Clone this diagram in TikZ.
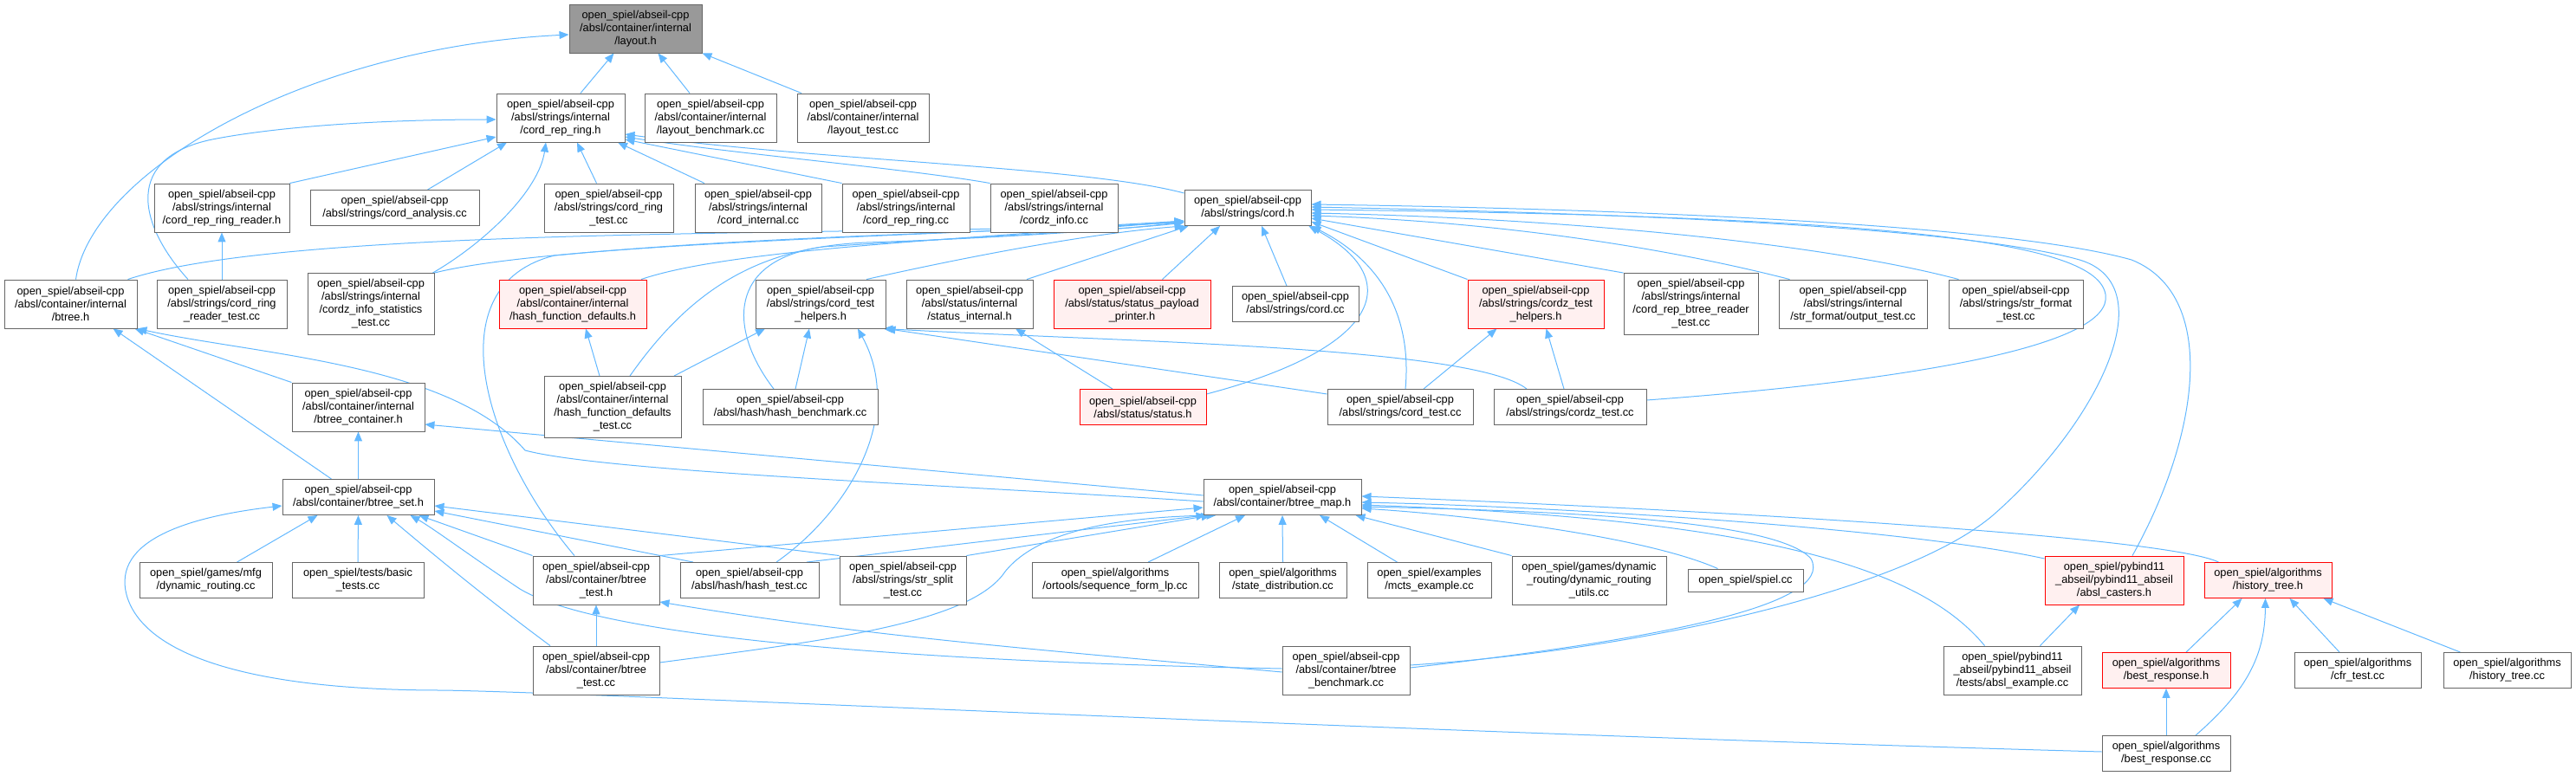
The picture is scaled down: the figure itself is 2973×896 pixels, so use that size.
\documentclass[tikz,border=0pt]{standalone}
\usepackage{fontspec}
\setmainfont{Liberation Sans}
\usetikzlibrary{arrows.meta,backgrounds}
\definecolor{edgec}{HTML}{63B8FF}
\definecolor{nodegray}{HTML}{666666}
\definecolor{rootgray}{HTML}{999999}
\definecolor{redfill}{HTML}{FFF0F0}
\tikzset{
 box/.style={draw=nodegray, line width=0.9pt, fill=white, inner sep=0pt, align=center, font=\fontsize{12.8pt}{15pt}\selectfont, minimum height=56pt},
 redbox/.style={box, draw=red, fill=redfill},
 rootbox/.style={box, fill=rootgray},
 twoline/.style={minimum height=41pt},
 fourline/.style={minimum height=71pt},
 oneline/.style={minimum height=26pt},
 edge/.style={draw=edgec, line width=1pt, -{Triangle[length=11pt,width=9pt]}}
}
\begin{document}
\begin{tikzpicture}[x=1pt,y=-1pt]
\useasboundingbox (0,0) rectangle (2973,896);
% row 0
\node[rootbox, minimum width=153pt] (layout) at (733.5,33) {open\_spiel/abseil-cpp\\/absl/container/internal\\/layout.h};
% row 1
\node[box, minimum width=148pt] (crrh) at (647,136) {open\_spiel/abseil-cpp\\/absl/strings/internal\\/cord\_rep\_ring.h};
\node[box, minimum width=152pt] (laybm) at (820,136) {open\_spiel/abseil-cpp\\/absl/container/internal\\/layout\_benchmark.cc};
\node[box, minimum width=152pt] (laytest) at (996,136) {open\_spiel/abseil-cpp\\/absl/container/internal\\/layout\_test.cc};
% row 2
\node[box, minimum width=156pt] (crrrdh) at (256,240) {open\_spiel/abseil-cpp\\/absl/strings/internal\\/cord\_rep\_ring\_reader.h};
\node[box, twoline, minimum width=195pt] (cordan) at (455.5,240) {open\_spiel/abseil-cpp\\/absl/strings/cord\_analysis.cc};
\node[box, minimum width=149pt] (crtest) at (702.5,240) {open\_spiel/abseil-cpp\\/absl/strings/cord\_ring\\\_test.cc};
\node[box, minimum width=146pt] (cordint) at (875,240) {open\_spiel/abseil-cpp\\/absl/strings/internal\\/cord\_internal.cc};
\node[box, minimum width=147pt] (crrcc) at (1045.5,240) {open\_spiel/abseil-cpp\\/absl/strings/internal\\/cord\_rep\_ring.cc};
\node[box, minimum width=147pt] (czinfo) at (1216.5,240) {open\_spiel/abseil-cpp\\/absl/strings/internal\\/cordz\_info.cc};
\node[box, twoline, minimum width=146pt] (cordh) at (1440,240) {open\_spiel/abseil-cpp\\/absl/strings/cord.h};
% row 3
\node[box, minimum width=153pt] (btreeh) at (81.5,351) {open\_spiel/abseil-cpp\\/absl/container/internal\\/btree.h};
\node[box, minimum width=150pt] (crrdtest) at (256,351) {open\_spiel/abseil-cpp\\/absl/strings/cord\_ring\\\_reader\_test.cc};
\node[box, fourline, minimum width=146pt] (czstat) at (428,351) {open\_spiel/abseil-cpp\\/absl/strings/internal\\/cordz\_info\_statistics\\\_test.cc};
\node[redbox, minimum width=170pt] (hfdh) at (661,351) {open\_spiel/abseil-cpp\\/absl/container/internal\\/hash\_function\_defaults.h};
\node[box, minimum width=150pt] (cthh) at (947,351) {open\_spiel/abseil-cpp\\/absl/strings/cord\_test\\\_helpers.h};
\node[box, minimum width=146pt] (statint) at (1119,351) {open\_spiel/abseil-cpp\\/absl/status/internal\\/status\_internal.h};
\node[redbox, minimum width=181pt] (spph) at (1306.5,351) {open\_spiel/abseil-cpp\\/absl/status/status\_payload\\\_printer.h};
\node[box, twoline, minimum width=146pt] (cordcc) at (1495,351) {open\_spiel/abseil-cpp\\/absl/strings/cord.cc};
\node[redbox, minimum width=157pt] (czthh) at (1772.5,351) {open\_spiel/abseil-cpp\\/absl/strings/cordz\_test\\\_helpers.h};
\node[box, fourline, minimum width=155pt] (crbrt) at (1951.5,351) {open\_spiel/abseil-cpp\\/absl/strings/internal\\/cord\_rep\_btree\_reader\\\_test.cc};
\node[box, minimum width=171pt] (sfot) at (2138.5,351) {open\_spiel/abseil-cpp\\/absl/strings/internal\\/str\_format/output\_test.cc};
\node[box, minimum width=155pt] (sft) at (2326.5,351) {open\_spiel/abseil-cpp\\/absl/strings/str\_format\\\_test.cc};
% row 4
\node[box, minimum width=153pt] (btcont) at (413.5,470) {open\_spiel/abseil-cpp\\/absl/container/internal\\/btree\_container.h};
\node[box, fourline, minimum width=158pt] (hfdtest) at (707,470) {open\_spiel/abseil-cpp\\/absl/container/internal\\/hash\_function\_defaults\\\_test.cc};
\node[box, twoline, minimum width=202pt] (hashbm) at (912,470) {open\_spiel/abseil-cpp\\/absl/hash/hash\_benchmark.cc};
\node[redbox, twoline, minimum width=146pt] (statush) at (1319,470) {open\_spiel/abseil-cpp\\/absl/status/status.h};
\node[box, twoline, minimum width=168pt] (cordtest) at (1616,470) {open\_spiel/abseil-cpp\\/absl/strings/cord\_test.cc};
\node[box, twoline, minimum width=176pt] (cordztest) at (1812,470) {open\_spiel/abseil-cpp\\/absl/strings/cordz\_test.cc};
% row 5
\node[box, twoline, minimum width=175pt] (btset) at (413.5,574) {open\_spiel/abseil-cpp\\/absl/container/btree\_set.h};
\node[box, twoline, minimum width=182pt] (btmap) at (1480,574) {open\_spiel/abseil-cpp\\/absl/container/btree\_map.h};
% row 6
\node[box, twoline, minimum width=153pt] (mfgdr) at (237.5,670) {open\_spiel/games/mfg\\/dynamic\_routing.cc};
\node[box, twoline, minimum width=152pt] (basictests) at (413,670) {open\_spiel/tests/basic\\\_tests.cc};
\node[box, minimum width=146pt] (bttesth) at (688,670) {open\_spiel/abseil-cpp\\/absl/container/btree\\\_test.h};
\node[box, twoline, minimum width=160pt] (hashtest) at (865,670) {open\_spiel/abseil-cpp\\/absl/hash/hash\_test.cc};
\node[box, minimum width=146pt] (strsplit) at (1042,670) {open\_spiel/abseil-cpp\\/absl/strings/str\_split\\\_test.cc};
\node[box, twoline, minimum width=192pt] (sflp) at (1287,670) {open\_spiel/algorithms\\/ortools/sequence\_form\_lp.cc};
\node[box, twoline, minimum width=147pt] (statedist) at (1480.5,670) {open\_spiel/algorithms\\/state\_distribution.cc};
\node[box, twoline, minimum width=143pt] (mcts) at (1649.5,670) {open\_spiel/examples\\/mcts\_example.cc};
\node[box, minimum width=178pt] (drutils) at (1834,670) {open\_spiel/games/dynamic\\\_routing/dynamic\_routing\\\_utils.cc};
\node[box, oneline, minimum width=133pt] (spielcc) at (2014.5,670) {open\_spiel/spiel.cc};
\node[redbox, minimum width=160pt] (caster) at (2440,670) {open\_spiel/pybind11\\\_abseil/pybind11\_abseil\\/absl\_casters.h};
\node[redbox, twoline, minimum width=147pt] (histh) at (2617.5,670) {open\_spiel/algorithms\\/history\_tree.h};
% row 7
\node[box, minimum width=146pt] (bttestcc) at (688,774) {open\_spiel/abseil-cpp\\/absl/container/btree\\\_test.cc};
\node[box, minimum width=147pt] (btbm) at (1553.5,774) {open\_spiel/abseil-cpp\\/absl/container/btree\\\_benchmark.cc};
\node[box, minimum width=159pt] (abslex) at (2322.5,774) {open\_spiel/pybind11\\\_abseil/pybind11\_abseil\\/tests/absl\_example.cc};
\node[redbox, twoline, minimum width=148pt] (brh) at (2500,774) {open\_spiel/algorithms\\/best\_response.h};
\node[box, twoline, minimum width=146pt] (cfr) at (2721,774) {open\_spiel/algorithms\\/cfr\_test.cc};
\node[box, twoline, minimum width=147pt] (histcc) at (2893.5,774) {open\_spiel/algorithms\\/history\_tree.cc};
% row 8
\node[box, twoline, minimum width=148pt] (brcc) at (2500,870) {open\_spiel/algorithms\\/best\_response.cc};

\begin{pgfonlayer}{background}
% into layout.h
\draw[edge] ([xshift=23]crrh.north) -- ([xshift=-25]layout.south);
\draw[edge] ([xshift=-24]laybm.north) -- ([xshift=26]layout.south);
\draw[edge] ([xshift=-71]laytest.north) -- (layout.south east);
\draw[edge] ([xshift=6]btreeh.north) .. controls (105,200) and (350,55) .. ([yshift=-7]layout.west);
% into cord_rep_ring.h
\draw[edge] (crrrdh.north east) -- ([yshift=-22]crrh.west);
\draw[edge] ([xshift=38]cordan.north) -- ([xshift=-62]crrh.south);
\draw[edge] ([xshift=-14]crtest.north) -- ([xshift=19]crrh.south);
\draw[edge] ([xshift=-62]cordint.north) -- ([xshift=66]crrh.south);
\draw[edge] (crrcc.north west) -- ([yshift=-25]crrh.east);
\draw[edge] (czinfo.north west) .. controls (1050,195) and (850,178) .. ([yshift=-22]crrh.east);
\draw[edge] ([yshift=17]cordh.west) .. controls (1250,192) and (950,186) .. ([yshift=-19]crrh.east);
\draw[edge] ([xshift=-39]crrdtest.north) .. controls (160,260) and (140,180) .. (250,160) .. controls (330,145) and (450,138) .. ([yshift=-2]crrh.west);
\draw[edge] ([xshift=-2]czstat.north east) .. controls (560,280) and (622,220) .. ([xshift=-17]crrh.south);
\draw[edge] (crrdtest.north) -- (crrrdh.south);
% into cord.h from the left
\draw[edge] ([xshift=66]btreeh.north) .. controls (350,255) and (1100,275) .. ([yshift=-16]cordh.west);
\draw[edge] (czstat.north east) .. controls (640,280) and (1100,272) .. ([yshift=-15]cordh.west);
\draw[edge] ([xshift=79]hfdh.north) .. controls (850,285) and (1150,275) .. ([yshift=-15]cordh.west);
\draw[edge] ([xshift=20]hfdtest.north) .. controls (800,330) and (880,285) .. (1000,280) .. controls (1150,275) and (1300,265) .. ([yshift=-16]cordh.west);
\draw[edge] ([xshift=-19]hashbm.north) .. controls (840,380) and (840,300) .. (950,285) .. controls (1100,275) and (1300,265) .. ([yshift=-17]cordh.west);
\draw[edge] ([xshift=-25]bttesth.north) .. controls (560,520) and (500,330) .. (640,295) .. controls (900,270) and (1200,268) .. ([yshift=-16]cordh.west);
\draw[edge] ([xshift=53]cthh.north) .. controls (1100,300) and (1250,270) .. (cordh.south west);
\draw[edge] ([xshift=66]statint.north) -- ([xshift=5]cordh.south west);
\draw[edge] ([xshift=35]spph.north) -- ([xshift=-32]cordh.south);
\draw[edge] ([xshift=-10]cordcc.north) -- ([xshift=16]cordh.south);
\draw[edge] ([yshift=15]statush.east) .. controls (1600,400) and (1620,320) .. ([xshift=-3]cordh.south east);
\draw[edge] ([xshift=6]cordtest.north) .. controls (1630,360) and (1590,300) .. (cordh.south east);
% into cord.h from the right
\draw[edge] (czthh.north west) -- ([yshift=-16]cordh.east);
\draw[edge] (crbrt.north west) -- ([yshift=-12]cordh.east);
\draw[edge] ([xshift=-73]sfot.north) .. controls (1900,280) and (1700,255) .. ([yshift=-9]cordh.east);
\draw[edge] ([xshift=-66]sft.north) .. controls (2100,280) and (1800,252) .. ([yshift=-6]cordh.east);
\draw[edge] ([yshift=8]cordztest.east) .. controls (2200,440) and (2440,400) .. (2430,340) .. controls (2420,280) and (2200,250) .. ([yshift=-2]cordh.east);
\draw[edge] ([yshift=6]btbm.east) .. controls (1900,750) and (2200,680) .. (2300,595) .. controls (2420,490) and (2500,330) .. (2400,300) .. controls (2250,258) and (1800,245) .. ([yshift=1]cordh.east);
\draw[edge] ([xshift=21]caster.north) .. controls (2540,500) and (2560,340) .. (2460,300) .. controls (2300,255) and (1800,240) .. ([yshift=4]cordh.east);
% btree family
\draw[edge] ([xshift=-31]btset.north) -- ([xshift=49]btreeh.south);
\draw[edge] (btcont.north west) -- ([xshift=-3]btreeh.south east);
\draw[edge] ([yshift=-5]btmap.west) .. controls (1100,560) and (700,545) .. (606,520) .. controls (520,420) and (300,410) .. (btreeh.south east);
\draw[edge] (btset.north) -- (btcont.south);
\draw[edge] ([yshift=2]btmap.west) -- ([yshift=-20]btcont.east);
% into btree_set.h
\draw[edge] ([xshift=36]mfgdr.north) -- ([xshift=-47]btset.south);
\draw[edge] (basictests.north) -- (btset.south);
\draw[edge] ([xshift=-53]bttestcc.north) .. controls (560,690) and (500,640) .. ([xshift=33]btset.south);
\draw[edge] (bttesth.north west) -- ([xshift=70]btset.south);
\draw[edge] ([yshift=2]btbm.west) .. controls (1100,765) and (700,740) .. (600,680) .. controls (540,640) and (500,610) .. ([xshift=60]btset.south);
\draw[edge] ([xshift=-65]hashtest.north) -- ([yshift=-16]btset.east);
\draw[edge] (strsplit.north west) -- ([yshift=-10]btset.east);
\draw[edge] ([yshift=2]brcc.west) .. controls (1600,845) and (700,800) .. (510,797) .. controls (300,797) and (170,760) .. (147,690) .. controls (125,620) and (230,595) .. ([yshift=-10]btset.west);
% into btree_map.h
\draw[edge] (bttesth.north east) -- ([yshift=-12]btmap.west);
\draw[edge] ([xshift=66]hashtest.north) -- ([xshift=3]btmap.south west);
\draw[edge] (strsplit.north east) -- ([xshift=9]btmap.south west);
\draw[edge] ([yshift=9]bttestcc.east) .. controls (950,740) and (1120,720) .. (1160,660) .. controls (1200,610) and (1300,597) .. ([xshift=15]btmap.south west);
\draw[edge] ([xshift=38]sflp.north) -- ([xshift=-43]btmap.south);
\draw[edge] (statedist.north) -- (btmap.south);
\draw[edge] ([xshift=-37]mcts.north) -- ([xshift=43]btmap.south);
\draw[edge] (drutils.north west) -- ([xshift=-7]btmap.south east);
\draw[edge] ([xshift=-32]spielcc.north) .. controls (1900,620) and (1700,595) .. ([yshift=-13]btmap.east);
\draw[edge] ([yshift=25]caster.west) .. controls (2200,610) and (1800,585) .. ([yshift=-6]btmap.east);
\draw[edge] ([xshift=-57]histh.north) .. controls (2500,620) and (2000,590) .. ([yshift=1]btmap.east);
\draw[edge] ([xshift=-32]abslex.north) .. controls (2220,660) and (2050,600) .. ([yshift=-9]btmap.east);
\draw[edge] ([yshift=3]btbm.east) .. controls (1900,740) and (2120,700) .. (2090,645) .. controls (2050,600) and (1800,590) .. ([yshift=-11]btmap.east);
% algorithms
\draw[edge] ([xshift=32]abslex.north) -- ([xshift=-40]caster.south);
\draw[edge] ([xshift=23]brh.north) -- ([xshift=-30]histh.south);
\draw[edge] ([xshift=34]brcc.north) .. controls (2590,800) and (2614,760) .. ([xshift=-3]histh.south);
\draw[edge] ([xshift=-21]cfr.north) -- ([xshift=25]histh.south);
\draw[edge] ([xshift=-54]histcc.north) -- ([xshift=-10]histh.south east);
\draw[edge] (brcc.north) -- (brh.south);
% into cord_test_helpers.h
\draw[edge] ([xshift=71]hfdtest.north) -- ([xshift=-64]cthh.south);
\draw[edge] ([xshift=6]hashbm.north) -- ([xshift=-13]cthh.south);
\draw[edge] ([xshift=31]hashtest.north) .. controls (980,590) and (1045,480) .. ([xshift=43]cthh.south);
\draw[edge] ([yshift=15]cordtest.west) -- (cthh.south east);
\draw[edge] ([xshift=-50]cordztest.north) .. controls (1700,400) and (1300,395) .. ([xshift=-3]cthh.south east);
% misc
\draw[edge] ([xshift=-15]hfdtest.north) -- ([xshift=15]hfdh.south);
\draw[edge] ([xshift=-35]statush.north) -- ([xshift=53]statint.south);
\draw[edge] ([xshift=27]cordtest.north) -- ([xshift=-45]czthh.south);
\draw[edge] ([xshift=-7]cordztest.north) -- ([xshift=12]czthh.south);
\draw[edge] (bttestcc.north) -- (bttesth.south);
\draw[edge] ([yshift=-2]btbm.west) .. controls (1200,750) and (1000,735) .. ([yshift=-25]bttesth.east);
\end{pgfonlayer}
\end{tikzpicture}
\end{document}
